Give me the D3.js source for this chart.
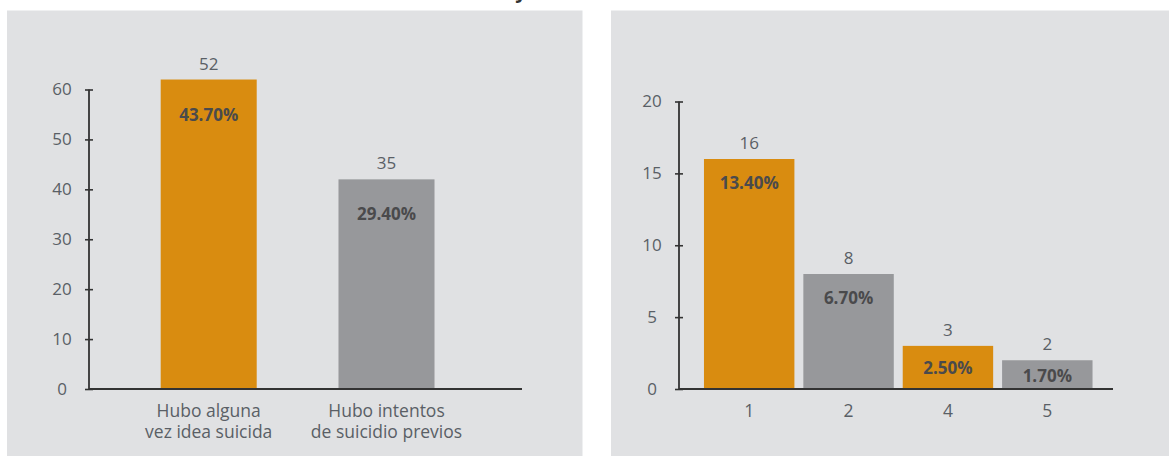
<!DOCTYPE html>
<html>
<head>
<meta charset="utf-8">
<script src="https://cdn.jsdelivr.net/npm/d3@7"></script>
<style>
  body { margin: 0; background: #fff; }
  svg { display: block; font-family: "Open Sans", "DejaVu Sans", sans-serif; }
</style>
</head>
<body>
<div id="chart"></div>
<script>
////////////////////////////////////////////////////////////////////////
// Data

// left panel
const leftCategories = [["Hubo alguna", "vez idea suicida"], ["Hubo intentos", "de suicidio previos"]];
const leftCounts = [52, 35];
// the bars in the source are drawn taller than their labels say
const leftBarValues = [62, 42];
const leftPercents = ["43.70%", "29.40%"];
const leftTicks = [0, 10, 20, 30, 40, 50, 60];

// right panel
const rightCategories = ["1", "2", "4", "5"];
const rightCounts = [16, 8, 3, 2];
const rightPercents = ["13.40%", "6.70%", "2.50%", "1.70%"];
const rightTicks = [0, 5, 10, 15, 20];

const barColors = ["#d98c10", "#97989b"];

////////////////////////////////////////////////////////////////////////

const width = 1169;
const height = 456;

const svg = d3.select("#chart").append("svg")
  .attr("width", width)
  .attr("height", height);

// cut-off title glyph at the very top
svg.append("text")
  .attr("x", 521)
  .attr("y", -2)
  .attr("text-anchor", "middle")
  .attr("font-size", 20)
  .attr("font-weight", "bold")
  .attr("fill", "#333")
  .text("y");

function makePanel(opts) {
  const g = svg.append("g");

  g.append("rect")
    .attr("x", opts.bg[0])
    .attr("y", 10.5)
    .attr("width", opts.bg[1] - opts.bg[0])
    .attr("height", height - 10.5)
    .attr("fill", "#e0e1e3");

  const xScale = d3.scaleBand()
    .domain(d3.range(opts.values.length))
    .range(opts.xRange)
    .paddingInner(opts.padIn)
    .paddingOuter(opts.padOut);

  const yScale = d3.scaleLinear()
    .domain([0, d3.max(opts.ticks)])
    .range([389, opts.yTop]);

  // bars
  g.selectAll("rect.bar")
    .data(opts.values)
    .enter().append("rect")
    .attr("class", "bar")
    .attr("x", (d, i) => xScale(i))
    .attr("y", d => yScale(d))
    .attr("width", xScale.bandwidth())
    .attr("height", d => yScale(0) - yScale(d))
    .attr("fill", (d, i) => barColors[i % 2]);

  // y axis: ticks straddle the line
  g.append("g")
    .attr("transform", `translate(${opts.axisX}, 0)`)
    .call(d3.axisLeft(yScale).tickValues(opts.ticks).tickSize(4).tickPadding(0))
    .call(ax => ax.select(".domain").remove())
    .call(ax => ax.selectAll(".tick line")
      .attr("x1", -4).attr("x2", 4)
      .attr("stroke", "#333").attr("stroke-width", 1.6))
    .call(ax => ax.selectAll(".tick text")
      .attr("x", -27)
      .attr("text-anchor", "middle")
      .attr("font-size", 17)
      .attr("font-family", "'Open Sans', sans-serif")
      .attr("fill", "#5a5f66"));

  // axis lines
  g.append("path")
    .attr("d", `M${opts.axisX},${yScale(d3.max(opts.ticks))}V${yScale(0)}H${opts.axisEnd}`)
    .attr("fill", "none")
    .attr("stroke", "#333")
    .attr("stroke-width", 1.8)
    .attr("stroke-linejoin", "round");

  // count labels above bars
  g.selectAll("text.count")
    .data(opts.counts)
    .enter().append("text")
    .attr("class", "count")
    .attr("x", (d, i) => xScale(i) + xScale.bandwidth() / 2)
    .attr("y", (d, i) => yScale(opts.values[i]) - 10)
    .attr("text-anchor", "middle")
    .attr("font-size", 17)
    .attr("fill", "#5a5f66")
    .text(d => d);

  // percentages inside bars
  g.selectAll("text.pct")
    .data(opts.percents)
    .enter().append("text")
    .attr("class", "pct")
    .attr("x", (d, i) => xScale(i) + xScale.bandwidth() / 2)
    .attr("y", (d, i) => {
      const top = yScale(opts.values[i]);
      const h = yScale(0) - top;
      return top + Math.min(opts.pctOffset, h / 2 + 7);
    })
    .attr("text-anchor", "middle")
    .attr("font-size", 17)
    .attr("font-weight", "bold")
    .attr("fill", "#4a4a4c")
    .text(d => d);

  // category labels, one text per line
  opts.categories.forEach((d, i) => {
    const lines = Array.isArray(d) ? d : [d];
    const cx = xScale(i) + xScale.bandwidth() / 2;
    lines.forEach((l, j) => {
      g.append("text")
        .attr("class", "cat")
        .attr("x", cx)
        .attr("y", 417 + j * 21)
        .attr("text-anchor", "middle")
        .attr("font-size", 17.5)
        .attr("fill", "#5a5f66")
        .text(l);
    });
  });

  return { xScale, yScale };
}

////////////////////////////////////////////////////////////////////////
// Setup panels

const leftPanel = makePanel({
  bg: [7, 582.5],
  values: leftBarValues,
  counts: leftCounts,
  percents: leftPercents,
  categories: leftCategories,
  ticks: leftTicks,
  xRange: [119.8, 475.4],
  padIn: 0.46,
  padOut: 0.23,
  yTop: 89.5,
  axisX: 89,
  axisEnd: 522,
  pctOffset: 41
});

const rightPanel = makePanel({
  bg: [611, 1169],
  values: rightCounts,
  counts: rightCounts,
  percents: rightPercents,
  categories: rightCategories,
  ticks: rightTicks,
  xRange: [699.5, 1097],
  padIn: 0.09,
  padOut: 0.045,
  yTop: 101.5,
  axisX: 679,
  axisEnd: 1113,
  pctOffset: 30
});
</script>
</body>
</html>
